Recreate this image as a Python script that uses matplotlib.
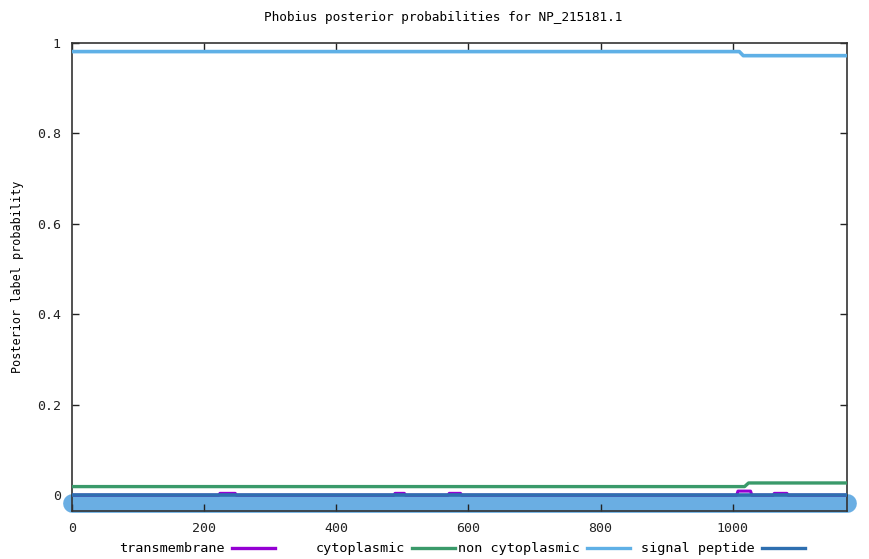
import matplotlib
matplotlib.use("Agg")
import matplotlib.pyplot as plt
from matplotlib.lines import Line2D

# ---- data ----
seq_len = 1173
x_ticks = [0, 200, 400, 600, 800, 1000]
y_ticks = [0, 0.2, 0.4, 0.6, 0.8, 1]
y_ticklabels = ["0", "0.2", "0.4", "0.6", "0.8", "1"]

tm_x = [0, 222, 224, 247, 249, 487, 489, 503, 505, 569, 571, 588, 590, 1006, 1008, 1027, 1029, 1061, 1063, 1082, 1084, 1173]
tm_y = [0, 0, 0.004, 0.004, 0, 0, 0.004, 0.004, 0, 0, 0.004, 0.004, 0, 0, 0.009, 0.009, 0, 0, 0.004, 0.004, 0, 0]

cyto_x = [0, 1018, 1024, 1173]
cyto_y = [0.019, 0.019, 0.027, 0.027]

noncyto_x = [0, 1010, 1016, 1173]
noncyto_y = [0.981, 0.981, 0.972, 0.972]

sp_x = [0, 1173]
sp_y = [0.0, 0.0]

band_x = [0, 1173]
band_y = [-0.0165, -0.0165]

labels = ["transmembrane", "cytoplasmic", "non cytoplasmic", "signal peptide"]

c_tm = "#9400D3"
c_cy = "#3a9a6a"
c_nc = "#5fb0e6"
c_sp = "#2e6fb0"
colors = [c_tm, c_cy, c_nc, c_sp]

mono = "DejaVu Sans Mono"
W, H = 870, 559

fig = plt.figure(figsize=(8.7, 5.59), dpi=100)
ax = fig.add_axes([72/W, 1-511/H, (847-72)/W, (511-43)/H])

ax.plot(band_x, band_y, color="#6aaee3", lw=13.5, solid_capstyle="round", clip_on=False, zorder=1)
ax.plot(tm_x, tm_y, color=c_tm, lw=2.2, label=labels[0], zorder=2)
ax.plot(cyto_x, cyto_y, color=c_cy, lw=2.4, label=labels[1], zorder=3)
ax.plot(noncyto_x, noncyto_y, color=c_nc, lw=2.6, label=labels[2], zorder=4)
ax.plot(sp_x, sp_y, color=c_sp, lw=2.6, label=labels[3], zorder=5)

ax.set_xlim(0, seq_len)
ax.set_ylim(-0.035, 1)
ax.set_xticks(x_ticks)
ax.set_xticklabels([str(v) for v in x_ticks], fontfamily=mono, fontsize=9.5)
ax.set_yticks(y_ticks)
ax.set_yticklabels(y_ticklabels, fontfamily=mono, fontsize=9.5)
ax.tick_params(direction="in", length=5, width=1, top=True, right=True, pad=8, colors="#222222")
for s in ax.spines.values():
    s.set_color("#333333")
    s.set_linewidth(1.2)

fig.text(443/W, 1-18/H, "Phobius posterior probabilities for NP_215181.1",
         ha="center", va="center", fontsize=9.2, fontfamily=mono)
ax.set_ylabel("Posterior label probability", fontfamily=mono, fontsize=8.5, labelpad=9)

# gnuplot-style key: text right-aligned, then sample line
line_ends = [275, 455, 630, 805]
ky = 1 - 548/H
kb = 1 - 552/H
for lab, col, xe in zip(labels, colors, line_ends):
    xs = xe - 43
    fig.add_artist(Line2D([xs/W, xe/W], [ky, ky], color=col, lw=2.4, transform=fig.transFigure))
    fig.text((xs - 7)/W, kb, lab, ha="right", va="baseline", fontsize=9.7, fontfamily=mono)

fig.savefig("out.png", dpi=100)
